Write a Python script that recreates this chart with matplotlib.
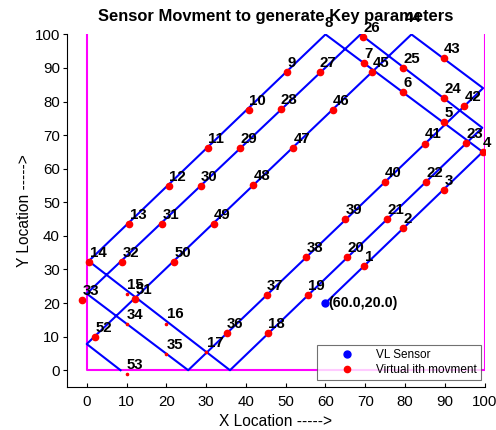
import numpy as np
import matplotlib
matplotlib.use("Agg")
import matplotlib.pyplot as plt

plt.rcParams["font.family"] = ["Liberation Sans", "DejaVu Sans"]

# sensor start position
sensor_x = [60.0]
sensor_y = [20.0]

# virtual movement points, numbered 1..53
point_x = [69.7, 79.5, 89.9, 99.5, 89.7, 79.5, 69.7, 59.7, 50.3, 40.7,
           30.4, 20.6, 10.7, 0.7, 10.0, 20.0, 30.0, 45.5, 55.5, 65.5,
           75.4, 85.3, 95.3, 89.7, 79.5, 69.5, 58.5, 48.7, 38.5, 28.6,
           18.9, 8.9, -1.2, 10.0, 20.0, 35.2, 45.2, 55.2, 65.0, 74.9,
           84.9, 94.9, 89.7, 79.7, 71.8, 61.8, 51.8, 41.8, 31.9, 21.9,
           12.1, 2.1, 10.0]
point_y = [31.1, 42.4, 53.6, 65.0, 74.0, 82.9, 91.6, 100.6, 88.9, 77.4,
           66.2, 54.9, 43.5, 32.3, 22.8, 13.9, 5.4, 11.1, 22.5, 33.8,
           44.9, 56.1, 67.7, 81.1, 90.1, 99.1, 88.9, 77.7, 66.2, 54.9,
           43.5, 32.3, 21.0, 13.7, 4.7, 11.2, 22.5, 33.8, 44.9, 56.1,
           67.5, 78.6, 93.1, 102.3, 88.9, 77.5, 66.3, 55.1, 43.5, 32.3,
           21.1, 9.9, -1.2]
# points drawn as tiny specks in the original
tiny_points = [15, 16, 17, 34, 35, 53]

# corners of the zig-zag sweep path
path_x = [60.0, 99.5, 60.0, 0.5, 36.0, 99.4, 68.8, 0.0, 25.5, 99.6, 81.6, 0.0, 8.5]
path_y = [20.0, 65.0, 100.0, 32.5, 0.0, 72.2, 100.0, 22.8, 0.0, 84.0, 100.0, 7.8, 0.0]

# field boundary (magenta)
bound_x = [0, 0, 100, 100]
bound_y = [100, 0, 0, 100]

fig = plt.figure(figsize=(4.96, 4.30), dpi=100)
ax = fig.add_axes([0.1347, 0.10, 0.8425, 0.820])

ax.plot(bound_x, bound_y, color=(1, 0, 1), lw=1.5, zorder=1)
ax.plot(path_x, path_y, color=(0, 0, 1), lw=1.5, zorder=2)

px = np.array(point_x)
py = np.array(point_y)
ids = np.arange(1, len(px) + 1)
small = np.isin(ids, tiny_points)
inside = py <= 100
big = inside & ~small

ax.plot(px[big], py[big], "o", color="red", ms=4.5, mec="red", zorder=3,
        label="Virtual ith movment")
ax.plot(px[small], py[small], "o", color="red", ms=1.6, mec="red", zorder=3)
ax.plot(sensor_x, sensor_y, "o", color="blue", ms=5, zorder=4, label="VL Sensor")

for i, x, y in zip(ids, px, py):
    ax.text(x + 0.1, y + 2.7, str(i), fontsize=10.8, fontweight="bold",
            ha="left", va="center", zorder=5, clip_on=False)

ax.text(sensor_x[0] + 0.6, sensor_y[0], "(%.1f,%.1f)" % (sensor_x[0], sensor_y[0]),
        fontsize=10.3, fontweight="bold", ha="left", va="center", zorder=5)

ax.set_xlim(-5, 100)
ax.set_ylim(-5, 100)
ax.set_xticks(np.arange(0, 101, 10))
ax.set_yticks(np.arange(0, 101, 10))
ax.tick_params(axis="x", direction="in", length=3, labelsize=10.8, pad=6)
ax.tick_params(axis="y", direction="out", length=3, labelsize=10.8, pad=2)
ax.spines["top"].set_visible(False)
ax.spines["right"].set_visible(False)

ax.set_title("Sensor Movment to generate Key parameters", fontsize=11.9,
             fontweight="bold", pad=10)
ax.set_xlabel("X Location ----->", fontsize=11.2, labelpad=3)
ax.set_ylabel("Y Location ----->", fontsize=11.2, labelpad=2)

h, l = ax.get_legend_handles_labels()
leg = ax.legend([h[1], h[0]], [l[1], l[0]], loc="lower right",
                bbox_to_anchor=(0.99, 0.02), fontsize=8.5, frameon=True,
                fancybox=False, edgecolor="0.3", handletextpad=0.2,
                borderpad=0.3, labelspacing=0.3, handlelength=4.5,
                borderaxespad=0)
leg.get_frame().set_linewidth(0.8)
leg.set_zorder(6)

fig.savefig("out.png", dpi=100)
